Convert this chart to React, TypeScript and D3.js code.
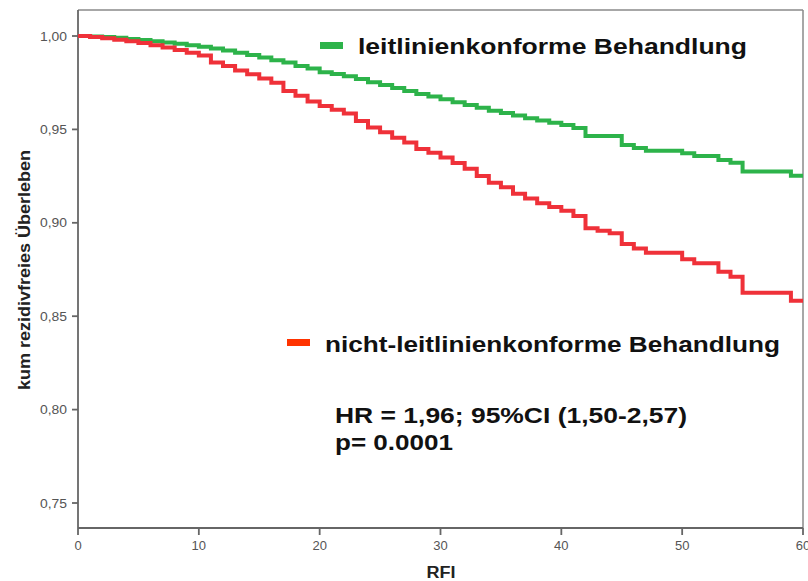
import React from "react";
import * as d3 from "d3";

// Kaplan-Meier step data (months, cumulative relapse-free survival)
const greenTimes = [0, 1, 2, 3, 4, 5, 6, 7, 8, 9, 10, 11, 12, 13, 14, 15, 16, 17, 18, 19, 20, 21, 22, 23, 24, 25, 26, 27, 28, 29, 30, 31, 32, 33, 34, 35, 36, 37, 38, 39, 40, 41, 42, 45, 46, 47, 50, 51, 53, 54, 55, 59, 60];
const greenValues = [1.0, 0.9998, 0.9995, 0.999, 0.9984, 0.9978, 0.9972, 0.9965, 0.9958, 0.995, 0.9942, 0.9933, 0.9922, 0.9911, 0.9898, 0.9885, 0.987, 0.9858, 0.984, 0.9826, 0.9806, 0.9796, 0.9785, 0.977, 0.9752, 0.9738, 0.9722, 0.9706, 0.969, 0.9676, 0.9662, 0.9645, 0.963, 0.9616, 0.96, 0.9588, 0.9574, 0.956, 0.9548, 0.9536, 0.9524, 0.9507, 0.9465, 0.9416, 0.94, 0.9386, 0.9372, 0.9358, 0.9336, 0.9322, 0.9274, 0.9252, 0.9252];

const redTimes = [0, 1, 2, 3, 4, 5, 6, 7, 8, 9, 10, 11, 12, 13, 14, 15, 16, 17, 18, 19, 20, 21, 22, 23, 24, 25, 26, 27, 28, 29, 30, 31, 32, 33, 34, 35, 36, 37, 38, 39, 40, 41, 42, 43, 44, 45, 46, 47, 50, 51, 53, 54, 55, 59, 60];
const redValues = [1.0, 0.9995, 0.9988, 0.998, 0.9972, 0.9962, 0.995, 0.9938, 0.9925, 0.991, 0.9895, 0.9858, 0.984, 0.9815, 0.9795, 0.9772, 0.975, 0.9705, 0.968, 0.965, 0.9625, 0.9605, 0.9585, 0.9545, 0.951, 0.9485, 0.9455, 0.943, 0.9395, 0.9375, 0.935, 0.932, 0.929, 0.925, 0.9215, 0.919, 0.9155, 0.913, 0.9105, 0.9085, 0.9065, 0.9036, 0.8971, 0.8958, 0.8944, 0.8887, 0.8863, 0.884, 0.8805, 0.8783, 0.8738, 0.8711, 0.8626, 0.8583, 0.8583];

const xTicks = [0, 10, 20, 30, 40, 50, 60];
const yTicks = [0.75, 0.8, 0.85, 0.9, 0.95, 1.0];

const legendGreen = "leitlinienkonforme Behandlung";
const legendRed = "nicht-leitlinienkonforme Behandlung";
const statLine1 = "HR = 1,96; 95%CI (1,50-2,57)";
const statLine2 = "p= 0.0001";
const xTitle = "RFI";
const yTitle = "kum rezidivfreies Überleben";

const GREEN = "#2db34a";
const RED = "#ef3139";
const FONT = "'Liberation Sans', Arial, sans-serif";

export default function App() {
  const left = 78, right = 803, top = 10, bottom = 528;
  const x = d3.scaleLinear().domain([0, 60]).range([left, right]);
  const y = d3.scaleLinear().domain([0.73662, 1.01392]).range([bottom, top]);

  const line = d3
    .line<[number, number]>()
    .x((d) => x(d[0]))
    .y((d) => y(d[1]))
    .curve(d3.curveStepAfter);

  const gPts = greenTimes.map((t, i) => [t, greenValues[i]] as [number, number]);
  const rPts = redTimes.map((t, i) => [t, redValues[i]] as [number, number]);

  const fmtY = (v: number) => v.toFixed(2).replace(".", ",");

  return (
    <svg
      width={808}
      height={581}
      style={{ position: "absolute", left: 0, top: 0, background: "#fff" }}
      fontFamily={FONT}
    >
      <rect x={0} y={0} width={808} height={581} fill="#fff" />
      {/* frame */}
      <line x1={left} x2={right} y1={top} y2={top} stroke="#8a8a8a" strokeWidth={1.5} />
      <line x1={right} x2={right} y1={top} y2={bottom} stroke="#8a8a8a" strokeWidth={1.5} />
      <line x1={left} x2={left} y1={top} y2={bottom} stroke="#666" strokeWidth={1.8} />
      <line x1={left} x2={right} y1={bottom} y2={bottom} stroke="#666" strokeWidth={1.8} />

      {/* y ticks */}
      {yTicks.map((v) => (
        <g key={v}>
          <line x1={left - 6} x2={left} y1={y(v)} y2={y(v)} stroke="#666" strokeWidth={1.8} />
          <text
            x={67}
            y={y(v) + 4.5}
            textAnchor="end"
            fontSize={12}
            fill="#555"
            textLength={27}
            lengthAdjust="spacingAndGlyphs"
          >
            {fmtY(v)}
          </text>
        </g>
      ))}

      {/* x ticks */}
      {xTicks.map((t) => (
        <g key={t}>
          <line x1={x(t)} x2={x(t)} y1={bottom} y2={bottom + 7} stroke="#666" strokeWidth={1.8} />
          <text x={x(t)} y={550} textAnchor="middle" fontSize={13} fill="#555">
            {t}
          </text>
        </g>
      ))}

      {/* axis titles */}
      <text
        x={441}
        y={578}
        textAnchor="middle"
        fontSize={16}
        fontWeight="bold"
        fill="#222"
        textLength={29}
        lengthAdjust="spacingAndGlyphs"
      >
        {xTitle}
      </text>
      <text
        transform={`translate(30,270) rotate(-90)`}
        textAnchor="middle"
        fontSize={16}
        fontWeight="bold"
        fill="#222"
        textLength={240}
        lengthAdjust="spacingAndGlyphs"
      >
        {yTitle}
      </text>

      {/* curves */}
      <path d={line(gPts) || ""} fill="none" stroke={GREEN} strokeWidth={4} />
      <path d={line(rPts) || ""} fill="none" stroke={RED} strokeWidth={4} />

      {/* legend */}
      <rect x={320} y={42} width={23} height={7} fill={GREEN} />
      <text
        x={358}
        y={54}
        fontSize={22}
        fontWeight="bold"
        fill="#111"
        textLength={389}
        lengthAdjust="spacingAndGlyphs"
      >
        {legendGreen}
      </text>
      <rect x={287} y={339} width={23} height={7} fill="#ff3300" />
      <text
        x={325}
        y={352}
        fontSize={22}
        fontWeight="bold"
        fill="#111"
        textLength={455}
        lengthAdjust="spacingAndGlyphs"
      >
        {legendRed}
      </text>

      {/* stats */}
      <text
        x={335}
        y={423}
        fontSize={22}
        fontWeight="bold"
        fill="#111"
        textLength={352}
        lengthAdjust="spacingAndGlyphs"
      >
        {statLine1}
      </text>
      <text
        x={335}
        y={450}
        fontSize={22}
        fontWeight="bold"
        fill="#111"
        textLength={118}
        lengthAdjust="spacingAndGlyphs"
      >
        {statLine2}
      </text>
    </svg>
  );
}
